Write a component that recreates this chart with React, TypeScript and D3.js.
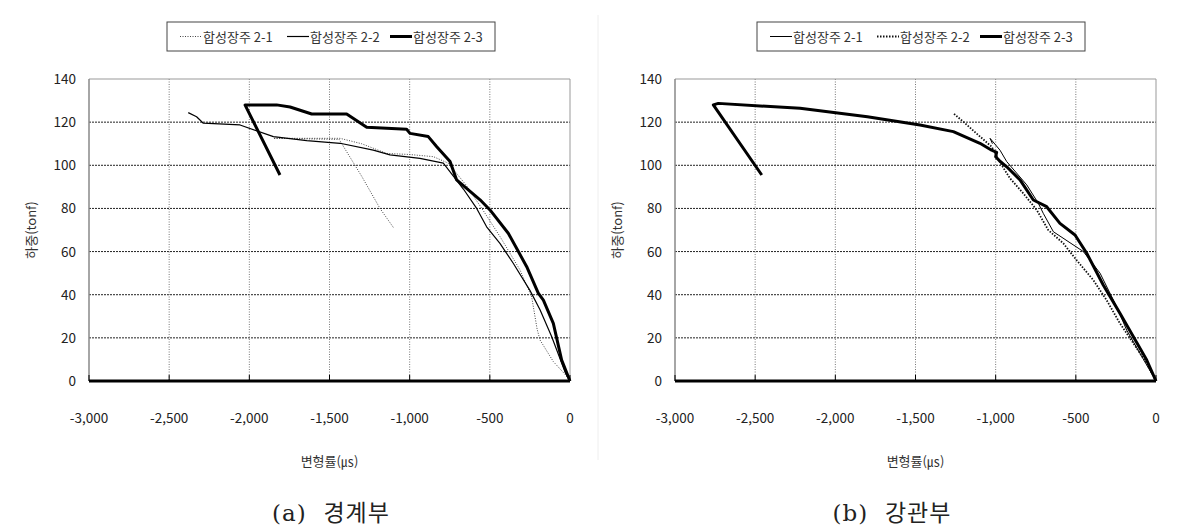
import React, { useEffect, useRef } from 'react';
import * as d3 from 'd3';

// x = strain (με), y = load (tonf)
const xTicks = [-3000, -2500, -2000, -1500, -1000, -500, 0];
const yTicks = [0, 20, 40, 60, 80, 100, 120, 140];
const seriesNames = ['합성장주 2-1', '합성장주 2-2', '합성장주 2-3'];

// (a) 경계부
const a21x = [0, -30, -104, -187, -205, -239, -312, -437, -541, -650, -760, -852, -1000, -1143, -1300, -1434, -1650, -1850, -1440, -1300, -1185, -1100];
const a21y = [0, 3, 9, 19, 24, 39, 51.5, 67, 79, 91, 101, 104, 105, 105.5, 110, 112.5, 112.5, 112.5, 112, 95, 80, 71];
const a22x = [0, -30, -114, -187, -250, -354, -437, -520, -582, -665, -790, -936, -1123, -1227, -1434, -1642, -1850, -2058, -2287, -2329, -2381];
const a22y = [0, 4, 20.5, 33, 42, 54.6, 63.8, 71.5, 80, 89, 101, 103.2, 104.8, 107, 110.2, 111.4, 113.3, 118.7, 119.5, 122.5, 124.4];
const a23x = [0, -52, -104, -166, -198, -270, -322, -385, -499, -561, -707, -748, -831, -884, -998, -1019, -1268, -1393, -1611, -1746, -1830, -2027, -1809];
const a23y = [0, 9.7, 26.7, 37.5, 40.7, 53, 60, 68.5, 79.3, 84, 93.2, 101.7, 108.6, 113.3, 114.8, 116.7, 117.6, 123.8, 123.8, 127, 128, 128, 95.5];

// (b) 강관부
const b21x = [0, -100, -183, -245, -349, -453, -640, -703, -734, -806, -931, -973, -1035, -1020];
const b21y = [0, 12.8, 23.6, 34.4, 50, 60, 69.2, 77.7, 82.4, 90.9, 101.7, 107, 112.5, 110];
const b22x = [0, -58, -141, -225, -308, -391, -495, -578, -672, -744, -828, -911, -962, -1025, -1108, -1191, -1264];
const b22y = [0, 8.2, 17.5, 26.7, 37.5, 46.8, 56, 63.8, 70, 79.3, 87, 94, 100, 108.6, 114, 119.5, 124.1];
const b23x = [0, -58, -141, -225, -329, -432, -505, -599, -682, -765, -848, -931, -975, -1000, -994, -1025, -1098, -1264, -1472, -1800, -2220, -2730, -2761, -2459];
const b23y = [0, 9.7, 20.5, 31.4, 44.5, 59.2, 67.7, 73.1, 80.8, 83.9, 93.2, 99.3, 102, 104, 106, 107, 110.2, 115.6, 118.7, 122.5, 126.4, 128.7, 128, 95.5];

type Style = { width: number; dash: string | null; color: string };
const thinDot: Style = { width: 1, dash: '1,1.5', color: '#444' };
const thin: Style = { width: 1.2, dash: null, color: '#000' };
const thick: Style = { width: 3, dash: null, color: '#000' };
const boldDot: Style = { width: 1.8, dash: '1.5,1.5', color: '#111' };

const panels = [
  {
    left: 89, caption: '(a)  경계부', captionX: 331, legendX: 167,
    series: [
      { xs: a21x, ys: a21y, style: thinDot },
      { xs: a22x, ys: a22y, style: thin },
      { xs: a23x, ys: a23y, style: thick },
    ],
  },
  {
    left: 675, caption: '(b)  강관부', captionX: 892, legendX: 757,
    series: [
      { xs: b21x, ys: b21y, style: { ...thin, width: 1 } },
      { xs: b22x, ys: b22y, style: boldDot },
      { xs: b23x, ys: b23y, style: thick },
    ],
  },
];

const App = () => {
  const ref = useRef<SVGSVGElement>(null);

  useEffect(() => {
    const svg = d3.select(ref.current);
    svg.selectAll('*').remove();
    const font = "'Noto Sans CJK KR', 'Noto Sans', sans-serif";
    const top = 79, bottom = 381, plotW = 481;

    // faint panel separator
    svg.append('line').attr('x1', 598).attr('x2', 598).attr('y1', 15).attr('y2', 460)
      .attr('stroke', '#eee').attr('stroke-width', 1);

    panels.forEach(p => {
      const x = d3.scaleLinear().domain([-3000, 0]).range([p.left, p.left + plotW]);
      const y = d3.scaleLinear().domain([0, 140]).range([bottom, top]);
      const g = svg.append('g');

      // horizontal grid
      g.selectAll('.hg').data(yTicks.filter(t => t > 0 && t < 140)).enter().append('line')
        .attr('x1', x(-3000)).attr('x2', x(0)).attr('y1', d => y(d)).attr('y2', d => y(d))
        .attr('stroke', '#222').attr('stroke-width', 1).attr('stroke-dasharray', '2,1');
      // vertical grid
      g.selectAll('.vg').data(xTicks.filter(t => t > -3000 && t < 0)).enter().append('line')
        .attr('x1', d => x(d)).attr('x2', d => x(d)).attr('y1', y(140)).attr('y2', y(0))
        .attr('stroke', '#777').attr('stroke-width', 1).attr('stroke-dasharray', '1,1.5');

      // frame
      g.append('line').attr('x1', x(-3000)).attr('x2', x(0)).attr('y1', y(140)).attr('y2', y(140))
        .attr('stroke', '#999').attr('stroke-width', 1);
      g.append('line').attr('x1', x(0)).attr('x2', x(0)).attr('y1', y(140)).attr('y2', y(0))
        .attr('stroke', '#999').attr('stroke-width', 1);
      g.append('line').attr('x1', x(-3000)).attr('x2', x(-3000)).attr('y1', y(140)).attr('y2', y(0))
        .attr('stroke', '#888').attr('stroke-width', 1.5);

      // series
      const line = d3.line<[number, number]>().x(d => x(d[0])).y(d => y(d[1]));
      p.series.forEach(s => {
        const pts = s.xs.map((v, i) => [v, s.ys[i]] as [number, number]);
        g.append('path').attr('d', line(pts)).attr('fill', 'none')
          .attr('stroke', s.style.color).attr('stroke-width', s.style.width)
          .attr('stroke-linejoin', 'round')
          .attr('stroke-dasharray', s.style.dash);
      });

      // x axis
      g.append('line').attr('x1', x(-3000)).attr('x2', x(0)).attr('y1', y(0)).attr('y2', y(0))
        .attr('stroke', '#000').attr('stroke-width', 3);
      g.selectAll('.xt').data(xTicks).enter().append('line')
        .attr('x1', d => x(d)).attr('x2', d => x(d)).attr('y1', y(0)).attr('y2', y(0) - 6)
        .attr('stroke', '#000').attr('stroke-width', 1);
      g.selectAll('.xl').data(xTicks).enter().append('text')
        .attr('x', d => x(d)).attr('y', 423).attr('text-anchor', 'middle')
        .attr('font-family', font).attr('font-size', 13.5).attr('fill', '#222')
        .text(d => d3.format(',')(d).replace('−', '-'));
      g.selectAll('.yl').data(yTicks).enter().append('text')
        .attr('x', p.left - 13).attr('y', d => y(d) + 5).attr('text-anchor', 'end')
        .attr('font-family', font).attr('font-size', 13.5).attr('fill', '#222')
        .text(d => d);

      // axis titles
      g.append('text').attr('x', x(-1500)).attr('y', 466).attr('text-anchor', 'middle')
        .attr('font-family', font).attr('font-size', 13).attr('fill', '#333')
        .text('변형률(㎲)');
      g.append('text')
        .attr('transform', `translate(${p.left - 53},${(top + bottom) / 2}) rotate(-90)`)
        .attr('text-anchor', 'middle').attr('font-family', font).attr('font-size', 13)
        .attr('fill', '#333').text('하중(tonf)');

      // caption
      g.append('text').attr('x', p.captionX).attr('y', 521).attr('text-anchor', 'middle')
        .attr('font-family', "'DejaVu Serif', 'Noto Sans CJK KR', serif").attr('font-size', 23)
        .attr('letter-spacing', 1).attr('fill', '#222').attr('xml:space', 'preserve').text(p.caption);

      // legend
      const lg = svg.append('g').attr('transform', `translate(${p.legendX},22)`);
      lg.append('rect').attr('width', 328).attr('height', 29).attr('fill', '#fff')
        .attr('stroke', '#444').attr('stroke-width', 1);
      const itemX = [13, 120, 223];
      p.series.forEach((s, i) => {
        lg.append('line').attr('x1', itemX[i]).attr('x2', itemX[i] + 22).attr('y1', 14.5).attr('y2', 14.5)
          .attr('stroke', s.style.color).attr('stroke-width', s.style.width)
          .attr('stroke-dasharray', s.style.dash);
        lg.append('text').attr('x', itemX[i] + 23).attr('y', 19.5).attr('font-family', font)
          .attr('font-size', 13).attr('fill', '#333').text(seriesNames[i]);
      });
    });
  }, []);

  return (
    <svg ref={ref} width={1177} height={530}
      style={{ position: 'absolute', left: 0, top: 0, background: '#fff' }} />
  );
};

export default App;
